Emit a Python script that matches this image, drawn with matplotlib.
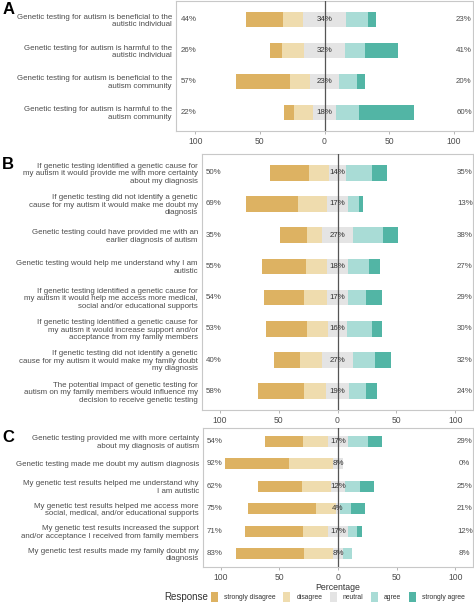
import matplotlib
matplotlib.use("Agg")
import matplotlib.pyplot as plt
from matplotlib.patches import Patch
import numpy as np

plt.rcParams['font.family'] = ['Liberation Sans', 'DejaVu Sans']

responses = ["strongly disagree", "disagree", "neutral", "agree", "strongly agree"]
colors = ["#DDB262", "#EFDCAE", "#E4E4E4", "#A9DCD6", "#52B5A5"]
txt = "#4D4D4D"

# panel A
labels_a = [
    "Genetic testing for autism is beneficial to the\nautistic individual",
    "Genetic testing for autism is harmful to the\nautistic individual",
    "Genetic testing for autism is beneficial to the\nautism community",
    "Genetic testing for autism is harmful to the\nautism community",
]
sd_a = [29, 9, 42, 7]
d_a = [15, 17, 15, 15]
n_a = [34, 32, 23, 18]
a_a = [17, 15, 14, 18]
sa_a = [6, 26, 6, 42]

# panel B
labels_b = [
    "If genetic testing identified a genetic cause for\nmy autism it would provide me with more certainty\nabout my diagnosis",
    "If genetic testing did not identify a genetic\ncause for my autism it would make me doubt my\ndiagnosis",
    "Genetic testing could have provided me with an\nearlier diagnosis of autism",
    "Genetic testing would help me understand why I am\nautistic",
    "If genetic testing identified a genetic cause for\nmy autism it would help me access more medical,\nsocial and/or educational supports",
    "If genetic testing identified a genetic cause for\nmy autism it would increase support and/or\nacceptance from my family members",
    "If genetic testing did not identify a genetic\ncause for my autism it would make my family doubt\nmy diagnosis",
    "The potential impact of genetic testing for\nautism on my family members would influence my\ndecision to receive genetic testing",
]
sd_b = [33, 44, 23, 37, 34, 35, 22, 39]
d_b = [17, 25, 12, 18, 20, 18, 18, 19]
n_b = [14, 17, 27, 18, 17, 16, 27, 19]
a_b = [22, 10, 25, 18, 16, 21, 18, 15]
sa_b = [13, 3, 13, 9, 13, 9, 14, 9]

# panel C
labels_c = [
    "Genetic testing provided me with more certainty\nabout my diagnosis of autism",
    "Genetic testing made me doubt my autism diagnosis",
    "My genetic test results helped me understand why\nI am autistic",
    "My genetic test results helped me access more\nsocial, medical, and/or educational supports",
    "My genetic test results increased the support\nand/or acceptance I received from family members",
    "My genetic test results made my family doubt my\ndiagnosis",
]
sd_c = [33, 54, 37, 58, 50, 58]
d_c = [21, 38, 25, 17, 21, 25]
n_c = [17, 8, 12, 4, 17, 8]
a_c = [17, 0, 13, 9, 8, 8]
sa_c = [12, 0, 12, 12, 4, 0]

ticks = [-100, -50, 0, 50, 100]
tick_labels = ["100", "50", "0", "50", "100"]


def likert(ax, labels, sd, d, n, a, sa, pad_lab):
    sd, d, n, a, sa = [np.array(v, dtype=float) for v in (sd, d, n, a, sa)]
    k = len(labels)
    y = np.arange(k)[::-1]
    h = 0.5
    ax.barh(y, -sd, left=-(n / 2 + d), height=h, color=colors[0], lw=0)
    ax.barh(y, -d, left=-n / 2, height=h, color=colors[1], lw=0)
    ax.barh(y, n, left=-n / 2, height=h, color=colors[2], lw=0)
    ax.barh(y, a, left=n / 2, height=h, color=colors[3], lw=0)
    ax.barh(y, sa, left=n / 2 + a, height=h, color=colors[4], lw=0)
    ax.axvline(0, color="#555555", lw=0.9, zorder=3)
    for yi, l, m, r in zip(y, sd + d, n, a + sa):
        ax.text(-105, yi, f"{l:.0f}%", ha="center", va="center", fontsize=5.7, color=txt)
        ax.text(0, yi, f"{m:.0f}%", ha="center", va="center", fontsize=5.7, color="#333333", zorder=4)
        ax.text(108, yi, f"{r:.0f}%", ha="center", va="center", fontsize=5.7, color=txt)
    ax.set_xlim(-115, 115)
    ax.set_ylim(-0.6, k - 1 + 0.6)
    ax.set_yticks(y)
    ax.set_yticklabels(labels, fontsize=5.7, color=txt, linespacing=1.1)
    ax.set_xticks(ticks)
    ax.set_xticklabels(tick_labels, fontsize=6.2, color=txt)
    ax.tick_params(axis="y", length=0, pad=pad_lab)
    ax.tick_params(axis="x", length=2, width=0.5, color="#999999", pad=2)
    for s in ax.spines.values():
        s.set_color("#C8C8C8")
        s.set_linewidth(0.8)


fig = plt.figure(figsize=(4.74, 6.04), dpi=100)
ax_a = fig.add_axes([176 / 474, 1 - 131 / 604, 297 / 474, 130 / 604])
ax_b = fig.add_axes([202 / 474, 1 - 410 / 604, 271 / 474, 256 / 604])
ax_c = fig.add_axes([203 / 474, 1 - 567 / 604, 270 / 474, 139 / 604])

likert(ax_a, labels_a, sd_a, d_a, n_a, a_a, sa_a, 3)
likert(ax_b, labels_b, sd_b, d_b, n_b, a_b, sa_b, 3)
likert(ax_c, labels_c, sd_c, d_c, n_c, a_c, sa_c, 3)
ax_c.set_xlabel("Percentage", fontsize=6.3, color="#333333", labelpad=1)

fig.text(0.005, 1 - 10 / 604, "A", fontsize=12, fontweight="bold", va="center")
fig.text(0.005, 1 - 164 / 604, "B", fontsize=12, fontweight="bold", va="center")
fig.text(0.005, 1 - 437 / 604, "C", fontsize=12, fontweight="bold", va="center")

handles = [Patch(facecolor=c, edgecolor="none") for c in colors]
fig.legend(handles, responses, ncol=5, loc="center left", bbox_to_anchor=(208 / 474, 1 - 597 / 604),
           frameon=False, fontsize=4.9, handlelength=1.0, handleheight=2.0, handletextpad=0.9,
           columnspacing=1.1, borderpad=0, labelcolor="#333333")
fig.text(186 / 474, 1 - 597 / 604, "Response", fontsize=7, ha="center", va="center", color="#333333")

fig.savefig("out.png", dpi=100)
